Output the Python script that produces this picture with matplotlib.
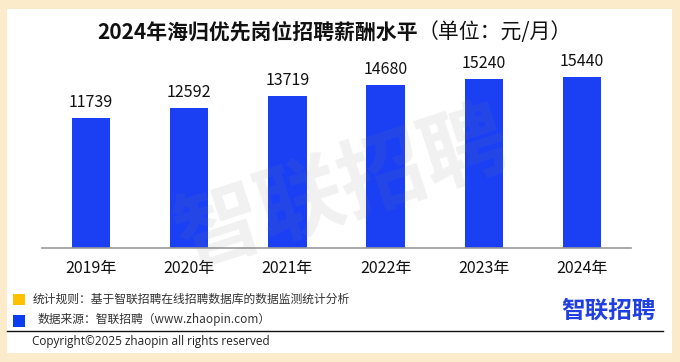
import matplotlib.pyplot as plt
from matplotlib.patches import Rectangle
import matplotlib.lines as mlines

plt.rcParams['font.family'] = ['Noto Sans CJK SC', 'DejaVu Sans']

# data
years = ['2019年', '2020年', '2021年', '2022年', '2023年', '2024年']
salary = [11739, 12592, 13719, 14680, 15240, 15440]

title_bold = '2024年海归优先岗位招聘薪酬水平'
title_unit = '（单位：元/月）'
note_rule = '统计规则：基于智联招聘在线招聘数据库的数据监测统计分析'
note_src = '数据来源：智联招聘（www.zhaopin.com）'
copyright_txt = 'Copyright©2025 zhaopin all rights reserved'

W, H = 680, 362
fig = plt.figure(figsize=(W / 100, H / 100), dpi=100, facecolor='#FCEBCB')


def fx(px):
    return px / W


def fy(py):
    return 1 - py / H


# white panel
fig.patches.append(Rectangle((fx(7), fy(353)), fx(672) - fx(7), fy(9) - fy(353),
                             transform=fig.transFigure, facecolor='white',
                             edgecolor='none', zorder=-5))

# bar axes
ax = fig.add_axes([fx(42), fy(248), fx(631) - fx(42), fy(60) - fy(248)])
ax.set_zorder(1)
ax.set_facecolor('none')
x = range(len(years))
ax.bar(x, salary, width=0.39, color='#1B40F4', zorder=2)
for i, v in zip(x, salary):
    ax.annotate(str(v), (i, v), xytext=(0, 5), textcoords='offset points',
                ha='center', va='bottom', fontsize=11.5, color='#111111')
ax.set_xlim(-0.5, len(years) - 0.5)
ax.set_ylim(0, 16940)
ax.set_xticks(list(x))
ax.set_xticklabels(years, fontsize=11.5, color='#111111')
ax.set_yticks([])
ax.tick_params(axis='x', length=0, pad=9)
for s in ['top', 'right', 'left']:
    ax.spines[s].set_visible(False)
ax.spines['bottom'].set_color('#999999')
ax.spines['bottom'].set_linewidth(1.2)

# title
t1 = fig.text(fx(97), fy(32), title_bold, fontsize=15, fontweight='bold',
              ha='left', va='center', color='#111111')
fig.canvas.draw()
bb = t1.get_window_extent()
fig.text(bb.x1 / W, fy(32), title_unit, fontsize=15, ha='left', va='center',
         color='#111111')

# watermark, on top of the bars
fig.text(fx(343), fy(190), '智联招聘', fontsize=62, fontweight='bold',
         rotation=18, ha='center', va='center', color='#808080', alpha=0.11,
         zorder=10)

# footer
fig.patches.append(Rectangle((fx(13), fy(305)), fx(25) - fx(13), fy(294) - fy(305),
                             transform=fig.transFigure, facecolor='#FFC000',
                             edgecolor='none'))
fig.patches.append(Rectangle((fx(13), fy(327)), fx(25) - fx(13), fy(315) - fy(327),
                             transform=fig.transFigure, facecolor='#0A3CF0',
                             edgecolor='none'))
fig.text(fx(33), fy(299), note_rule, fontsize=8.5, ha='left', va='center',
         color='#333333')
fig.text(fx(38), fy(319), note_src, fontsize=8.5, ha='left', va='center',
         color='#333333')
fig.lines.append(mlines.Line2D([fx(7), fx(663)], [fy(331), fy(331)],
                               transform=fig.transFigure, color='#111111',
                               linewidth=1.0))
fig.text(fx(32), fy(341), copyright_txt, fontsize=8.5, ha='left', va='center',
         color='#222222', family=['Open Sans', 'DejaVu Sans'])
fig.text(fx(656), fy(311), '智联招聘', fontsize=17, fontweight='bold',
         ha='right', va='center', color='#1F3FE0')

fig.savefig('out.png', dpi=100, facecolor=fig.get_facecolor())
